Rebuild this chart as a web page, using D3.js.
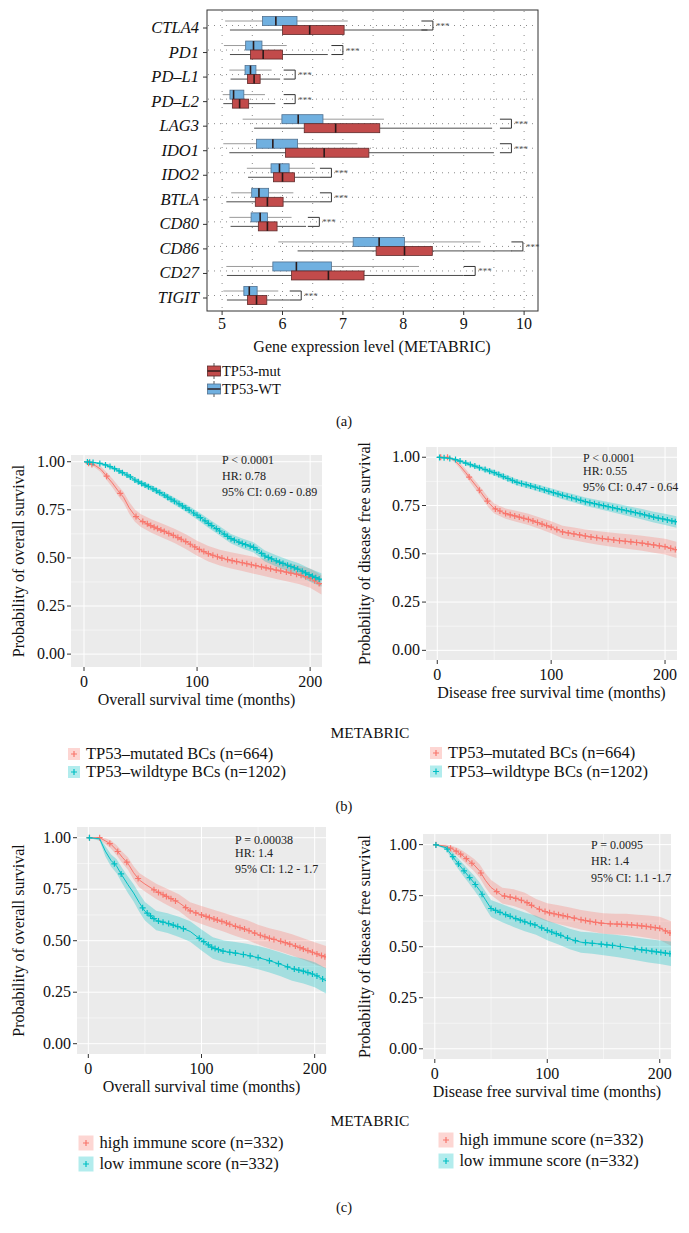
<!DOCTYPE html>
<html>
<head>
<meta charset="utf-8">
<script src="https://cdn.jsdelivr.net/npm/d3@7"></script>
<style>
  body { margin: 0; background: #fff; }
  svg { display: block; font-family: "Liberation Serif", "Times New Roman", serif; }
</style>
</head>
<body>
<svg id="fig" width="689" height="1233"></svg>
<script>
// ---------- data: panel (a) boxplots [lower whisker, q1, median, q3, upper whisker]
const genes = ["CTLA4", "PD1", "PD\u2013L1", "PD\u2013L2", "LAG3", "IDO1", "IDO2", "BTLA", "CD80", "CD86", "CD27", "TIGIT"];
const wtStats = [
  [5.05, 5.67, 5.89, 6.24, 7.08], [5.03, 5.39, 5.52, 5.66, 6.07], [5.12, 5.38, 5.47, 5.56, 5.82],
  [5.01, 5.13, 5.19, 5.36, 5.71], [5.34, 5.99, 6.26, 6.67, 7.68], [5.02, 5.57, 5.84, 6.25, 7.24],
  [5.41, 5.81, 5.95, 6.11, 6.54], [5.15, 5.49, 5.61, 5.77, 6.18], [5.12, 5.48, 5.63, 5.75, 6.15],
  [5.93, 7.17, 7.60, 8.02, 9.28], [5.07, 5.84, 6.23, 6.81, 8.26], [5.02, 5.36, 5.45, 5.58, 5.93]
];
const mutStats = [
  [5.13, 6.00, 6.45, 7.02, 8.40], [5.13, 5.47, 5.68, 6.00, 6.75], [5.14, 5.42, 5.53, 5.63, 5.96],
  [5.02, 5.17, 5.29, 5.44, 5.88], [5.53, 6.36, 6.88, 7.61, 9.47], [5.12, 6.05, 6.69, 7.43, 9.50],
  [5.43, 5.85, 6.00, 6.20, 6.62], [5.07, 5.55, 5.75, 6.01, 6.62], [5.14, 5.60, 5.75, 5.91, 6.39],
  [6.25, 7.55, 8.02, 8.48, 9.80], [5.08, 6.15, 6.76, 7.35, 8.99], [5.08, 5.42, 5.57, 5.74, 6.12]
];
const sigX = [8.49, 7.0, 6.21, 6.21, 9.79, 9.79, 6.81, 6.81, 6.61, 9.98, 9.19, 6.31];
const exprTicks = [5, 6, 7, 8, 9, 10];

// ---------- data: Kaplan-Meier curves, read at these months
const kmTime = [0, 10, 15, 20, 25, 30, 35, 40, 45, 50, 60, 70, 80, 90, 100, 110, 120, 130, 140, 150, 160, 170, 180, 190, 200, 210];

// (b) overall survival, TP53
const bOsWt = [1.0, 0.995, 0.99, 0.982, 0.97, 0.955, 0.94, 0.925, 0.905, 0.89, 0.862, 0.83, 0.795, 0.76, 0.722, 0.68, 0.64, 0.60, 0.575, 0.555, 0.51, 0.485, 0.462, 0.44, 0.41, 0.385];
const bOsWtLo = [1.0, 0.99, 0.983, 0.974, 0.961, 0.945, 0.929, 0.913, 0.892, 0.876, 0.846, 0.813, 0.776, 0.74, 0.70, 0.657, 0.616, 0.575, 0.549, 0.528, 0.482, 0.456, 0.432, 0.408, 0.376, 0.35];
const bOsWtHi = [1.0, 1.0, 0.996, 0.99, 0.979, 0.965, 0.951, 0.937, 0.918, 0.904, 0.878, 0.847, 0.814, 0.78, 0.744, 0.703, 0.664, 0.625, 0.601, 0.582, 0.538, 0.514, 0.492, 0.472, 0.444, 0.42];
const bOsMut = [1.0, 0.98, 0.96, 0.925, 0.89, 0.85, 0.815, 0.76, 0.72, 0.695, 0.665, 0.64, 0.615, 0.585, 0.55, 0.522, 0.502, 0.487, 0.475, 0.462, 0.45, 0.437, 0.425, 0.413, 0.395, 0.36];
const bOsMutLo = [1.0, 0.969, 0.945, 0.905, 0.867, 0.824, 0.787, 0.729, 0.688, 0.662, 0.63, 0.604, 0.578, 0.547, 0.511, 0.482, 0.461, 0.445, 0.432, 0.418, 0.405, 0.391, 0.378, 0.365, 0.345, 0.31];
const bOsMutHi = [1.0, 0.991, 0.975, 0.945, 0.913, 0.876, 0.843, 0.791, 0.752, 0.728, 0.7, 0.676, 0.652, 0.623, 0.589, 0.562, 0.543, 0.529, 0.518, 0.506, 0.495, 0.483, 0.472, 0.461, 0.445, 0.41];
const bOsWtCens = [3, 5, 8, 14, 19, 23, 27, 31, 34, 38, 41, 45, 48, 51, 54, 57, 61, 64, 67, 71, 74, 77, 80, 84, 87, 90, 93, 97, 100, 103, 107, 110, 113, 117, 120, 124, 127, 130, 133, 137, 140, 143, 147, 150, 153, 157, 160, 163, 166, 170, 173, 176, 180, 183, 186, 189, 193, 196, 199, 202, 205, 208];
const bOsMutCens = [4, 7, 20, 32, 46, 52, 56, 59, 62, 65, 68, 71, 75, 79, 83, 86, 90, 94, 98, 102, 106, 110, 114, 118, 122, 127, 131, 135, 140, 144, 148, 152, 157, 161, 165, 170, 174, 179, 183, 188, 192, 196, 200, 204, 208];

// (b) disease free survival, TP53
const bDfsWt = [1.0, 0.995, 0.99, 0.98, 0.97, 0.96, 0.95, 0.94, 0.93, 0.92, 0.895, 0.87, 0.855, 0.838, 0.82, 0.803, 0.787, 0.77, 0.757, 0.744, 0.731, 0.718, 0.705, 0.69, 0.678, 0.665];
const bDfsWtLo = [1.0, 0.99, 0.984, 0.972, 0.961, 0.95, 0.939, 0.928, 0.917, 0.906, 0.88, 0.854, 0.838, 0.82, 0.801, 0.783, 0.766, 0.748, 0.734, 0.72, 0.706, 0.692, 0.678, 0.662, 0.649, 0.635];
const bDfsWtHi = [1.0, 1.0, 0.996, 0.988, 0.979, 0.97, 0.961, 0.952, 0.943, 0.934, 0.91, 0.886, 0.872, 0.856, 0.839, 0.823, 0.808, 0.792, 0.78, 0.768, 0.756, 0.744, 0.732, 0.718, 0.707, 0.695];
const bDfsMut = [1.0, 1.0, 0.985, 0.955, 0.92, 0.882, 0.845, 0.805, 0.765, 0.735, 0.708, 0.693, 0.678, 0.658, 0.638, 0.613, 0.603, 0.592, 0.583, 0.575, 0.568, 0.562, 0.555, 0.546, 0.537, 0.52];
const bDfsMutLo = [1.0, 0.995, 0.975, 0.94, 0.902, 0.862, 0.823, 0.781, 0.74, 0.709, 0.681, 0.665, 0.649, 0.628, 0.607, 0.581, 0.57, 0.558, 0.548, 0.539, 0.531, 0.524, 0.516, 0.506, 0.496, 0.478];
const bDfsMutHi = [1.0, 1.0, 0.995, 0.97, 0.938, 0.902, 0.867, 0.829, 0.79, 0.761, 0.735, 0.721, 0.707, 0.688, 0.669, 0.645, 0.636, 0.626, 0.618, 0.611, 0.605, 0.6, 0.594, 0.586, 0.578, 0.562];
const bDfsWtCens = [2, 6, 11, 16, 20, 25, 29, 33, 37, 42, 46, 50, 54, 58, 62, 66, 70, 74, 78, 82, 86, 90, 94, 98, 102, 106, 110, 114, 118, 122, 126, 130, 134, 138, 142, 146, 150, 154, 158, 162, 166, 170, 174, 178, 182, 186, 190, 194, 198, 202, 206, 209];
const bDfsMutCens = [3, 9, 28, 37, 44, 51, 55, 60, 64, 68, 72, 76, 80, 84, 88, 92, 96, 100, 105, 110, 115, 120, 125, 130, 135, 140, 145, 150, 155, 160, 165, 170, 175, 180, 185, 190, 195, 200, 205, 209];

// (c) overall survival, immune score
const cOsHigh = [1.0, 1.0, 0.985, 0.968, 0.94, 0.905, 0.875, 0.83, 0.795, 0.775, 0.74, 0.712, 0.685, 0.645, 0.625, 0.607, 0.59, 0.57, 0.553, 0.53, 0.512, 0.497, 0.48, 0.46, 0.44, 0.42];
const cOsHighLo = [1.0, 0.99, 0.97, 0.948, 0.915, 0.877, 0.845, 0.797, 0.76, 0.739, 0.702, 0.672, 0.644, 0.602, 0.581, 0.562, 0.544, 0.523, 0.505, 0.481, 0.462, 0.446, 0.428, 0.407, 0.386, 0.365];
const cOsHighHi = [1.0, 1.0, 0.997, 0.987, 0.963, 0.932, 0.905, 0.862, 0.829, 0.81, 0.777, 0.751, 0.725, 0.687, 0.668, 0.651, 0.635, 0.616, 0.6, 0.578, 0.561, 0.547, 0.531, 0.512, 0.493, 0.474];
const cOsLow = [1.0, 0.995, 0.935, 0.89, 0.862, 0.815, 0.772, 0.732, 0.685, 0.643, 0.598, 0.585, 0.567, 0.545, 0.503, 0.465, 0.448, 0.44, 0.43, 0.418, 0.403, 0.385, 0.365, 0.352, 0.335, 0.305];
const cOsLowLo = [1.0, 0.985, 0.91, 0.86, 0.828, 0.778, 0.732, 0.69, 0.641, 0.598, 0.551, 0.537, 0.518, 0.495, 0.452, 0.413, 0.395, 0.386, 0.375, 0.362, 0.346, 0.327, 0.306, 0.292, 0.274, 0.244];
const cOsLowHi = [1.0, 1.0, 0.96, 0.92, 0.896, 0.852, 0.812, 0.774, 0.729, 0.688, 0.645, 0.633, 0.616, 0.595, 0.554, 0.517, 0.501, 0.494, 0.485, 0.474, 0.46, 0.443, 0.424, 0.412, 0.396, 0.366];
const cOsHighCens = [1, 10, 19, 26, 34, 44, 58, 62, 66, 69, 73, 77, 86, 90, 95, 100, 104, 107, 111, 114, 118, 122, 125, 130, 134, 138, 142, 147, 152, 156, 160, 164, 170, 174, 178, 183, 187, 190, 194, 198, 202, 206, 209];
const cOsLowCens = [1, 23, 29, 48, 52, 55, 58, 62, 66, 71, 75, 79, 84, 98, 102, 106, 109, 112, 115, 119, 125, 130, 137, 143, 150, 160, 168, 176, 182, 186, 190, 194, 198, 202, 207];

// (c) disease free survival, immune score
const cDfsHigh = [1.0, 0.992, 0.98, 0.965, 0.945, 0.922, 0.9, 0.87, 0.825, 0.79, 0.75, 0.74, 0.722, 0.69, 0.668, 0.657, 0.645, 0.632, 0.622, 0.614, 0.611, 0.609, 0.604, 0.598, 0.59, 0.565];
const cDfsHighLo = [1.0, 0.982, 0.965, 0.945, 0.921, 0.895, 0.87, 0.837, 0.79, 0.753, 0.711, 0.699, 0.68, 0.646, 0.623, 0.611, 0.598, 0.584, 0.573, 0.564, 0.56, 0.557, 0.551, 0.543, 0.533, 0.505];
const cDfsHighHi = [1.0, 1.0, 0.995, 0.985, 0.969, 0.949, 0.93, 0.903, 0.86, 0.827, 0.789, 0.781, 0.764, 0.734, 0.713, 0.703, 0.692, 0.68, 0.671, 0.664, 0.662, 0.661, 0.657, 0.653, 0.647, 0.625];
const cDfsLow = [1.0, 0.985, 0.948, 0.912, 0.878, 0.845, 0.812, 0.775, 0.73, 0.687, 0.664, 0.642, 0.622, 0.605, 0.58, 0.56, 0.538, 0.522, 0.517, 0.511, 0.505, 0.497, 0.488, 0.48, 0.473, 0.465];
const cDfsLowLo = [1.0, 0.975, 0.928, 0.887, 0.849, 0.813, 0.777, 0.737, 0.69, 0.645, 0.62, 0.597, 0.576, 0.558, 0.532, 0.511, 0.488, 0.471, 0.465, 0.458, 0.451, 0.442, 0.432, 0.423, 0.415, 0.405];
const cDfsLowHi = [1.0, 0.995, 0.968, 0.937, 0.907, 0.877, 0.847, 0.813, 0.77, 0.729, 0.708, 0.687, 0.668, 0.652, 0.628, 0.609, 0.588, 0.573, 0.569, 0.564, 0.559, 0.552, 0.544, 0.537, 0.531, 0.525];
const cDfsHighCens = [1, 14, 19, 23, 28, 33, 41, 55, 62, 67, 72, 77, 82, 86, 93, 98, 102, 106, 110, 114, 118, 124, 130, 134, 138, 143, 148, 156, 162, 166, 171, 175, 180, 184, 188, 192, 196, 200, 205, 209];
const cDfsLowCens = [1, 11, 16, 21, 26, 31, 36, 42, 50, 54, 58, 63, 67, 72, 76, 80, 85, 89, 95, 100, 104, 108, 112, 118, 125, 134, 140, 148, 153, 158, 165, 178, 184, 188, 193, 197, 201, 205, 209];

const monthTicks = [0, 100, 200];
const probTicks = [0, 0.25, 0.5, 0.75, 1];

const RED = "#F8766D", TEAL = "#00BFC4";
const FS = 16;
const svg = d3.select("#fig");

// ================= panel (a) =================
const ax = d3.scaleLinear().domain([4.75, 10.23]).range([207, 538]);
const ay = d3.scalePoint().domain(genes).range([28, 298]);
const ga = svg.append("g");

// dotted grid
ga.selectAll(".vdot").data(d3.range(5, 10.01, 0.5)).enter().append("line")
  .attr("x1", d => ax(d)).attr("x2", d => ax(d)).attr("y1", 11).attr("y2", 310)
  .attr("stroke", "#8a8a8a").attr("stroke-width", 1).attr("stroke-dasharray", "1,7");
ga.selectAll(".hdot").data(genes).enter().append("line")
  .attr("x1", 208).attr("x2", 537).attr("y1", d => ay(d) - 2.5).attr("y2", d => ay(d) - 2.5)
  .attr("stroke", "#8a8a8a").attr("stroke-width", 1).attr("stroke-dasharray", "1,5");

function drawBoxes(stats, off, fill, edge, whisk) {
  const g = ga.append("g");
  genes.forEach((gname, i) => {
    const s = stats[i], c = ay(gname) + off;
    g.append("line").attr("x1", ax(s[0])).attr("x2", ax(s[1])).attr("y1", c).attr("y2", c)
      .attr("stroke", whisk).attr("stroke-width", 1);
    g.append("line").attr("x1", ax(s[3])).attr("x2", ax(s[4])).attr("y1", c).attr("y2", c)
      .attr("stroke", whisk).attr("stroke-width", 1);
    g.append("rect").attr("x", ax(s[1])).attr("y", c - 4.5).attr("width", ax(s[3]) - ax(s[1])).attr("height", 9)
      .attr("fill", fill).attr("stroke", edge).attr("stroke-width", 0.8);
    g.append("line").attr("x1", ax(s[2])).attr("x2", ax(s[2])).attr("y1", c - 4.5).attr("y2", c + 4.5)
      .attr("stroke", "#2a1a1a").attr("stroke-width", 1.6);
  });
}
drawBoxes(wtStats, -7, "#70B0E0", "#50708f", "#9a9a9a");
drawBoxes(mutStats, 2, "#C24B4B", "#5e2a2a", "#4d4d4d");

// significance brackets
genes.forEach((gname, i) => {
  const c = ay(gname), bx = ax(sigX[i]);
  ga.append("path")
    .attr("d", `M${bx - 11.5},${c - 7}H${bx}V${c + 2}H${bx - 11.5}`)
    .attr("fill", "none").attr("stroke", "#333").attr("stroke-width", 1);
  ga.append("text").attr("x", bx + 3).attr("y", c + 1).attr("font-size", 9)
    .attr("fill", "#555").text("***");
});

ga.append("rect").attr("x", 207).attr("y", 10).attr("width", 331).attr("height", 301)
  .attr("fill", "none").attr("stroke", "#333").attr("stroke-width", 1);

// y axis (genes)
ga.selectAll(".glab").data(genes).enter().append("text")
  .attr("x", 199).attr("y", d => ay(d) + 5).attr("text-anchor", "end")
  .attr("font-style", "italic").attr("font-size", 16.5).attr("fill", "#111").text(d => d);
ga.selectAll(".gtick").data(genes).enter().append("line")
  .attr("x1", 203).attr("x2", 207).attr("y1", d => ay(d)).attr("y2", d => ay(d))
  .attr("stroke", "#333");
// x axis
ga.selectAll(".xt").data(exprTicks).enter().append("line")
  .attr("x1", d => ax(d)).attr("x2", d => ax(d)).attr("y1", 311).attr("y2", 315).attr("stroke", "#333");
ga.selectAll(".xl").data(exprTicks).enter().append("text")
  .attr("x", d => ax(d)).attr("y", 329).attr("text-anchor", "middle").attr("font-size", FS)
  .attr("fill", "#111").text(d => d);
ga.append("text").attr("x", 372).attr("y", 352).attr("text-anchor", "middle")
  .attr("font-size", FS).attr("fill", "#111").text("Gene expression level (METABRIC)");

// legend (a)
[["TP53-mut", "#C24B4B", "#5e2a2a", 371], ["TP53-WT", "#70B0E0", "#50708f", 389]].forEach(([lab, fill, edge, y]) => {
  ga.append("line").attr("x1", 214).attr("x2", 214).attr("y1", y - 8).attr("y2", y + 8).attr("stroke", "#555");
  ga.append("rect").attr("x", 207.5).attr("y", y - 5).attr("width", 13).attr("height", 10)
    .attr("fill", fill).attr("stroke", edge).attr("stroke-width", 0.8);
  ga.append("line").attr("x1", 207.5).attr("x2", 220.5).attr("y1", y).attr("y2", y).attr("stroke", "#2a1a1a").attr("stroke-width", 1.4);
  ga.append("text").attr("x", 222).attr("y", y + 5).attr("font-size", 14.5).attr("fill", "#111").text(lab);
});

// ================= KM panels =================
function drawKM(p) {
  const g = svg.append("g");
  const x = d3.scaleLinear().domain(p.xDom).range([p.left, p.right]);
  const y = d3.scaleLinear().domain(p.yDom).range([p.bottom, p.top]);
  g.append("rect").attr("x", p.left).attr("y", p.top).attr("width", p.right - p.left)
    .attr("height", p.bottom - p.top).attr("fill", "#EBEBEB");
  // minor grid
  [50, 150].forEach(t => g.append("line").attr("x1", x(t)).attr("x2", x(t)).attr("y1", p.top).attr("y2", p.bottom)
    .attr("stroke", "#fff").attr("stroke-width", 0.5));
  [0.125, 0.375, 0.625, 0.875].forEach(v => g.append("line").attr("x1", p.left).attr("x2", p.right)
    .attr("y1", y(v)).attr("y2", y(v)).attr("stroke", "#fff").attr("stroke-width", 0.5));
  // major grid
  monthTicks.forEach(t => g.append("line").attr("x1", x(t)).attr("x2", x(t)).attr("y1", p.top).attr("y2", p.bottom)
    .attr("stroke", "#fff").attr("stroke-width", 1));
  probTicks.forEach(v => g.append("line").attr("x1", p.left).attr("x2", p.right)
    .attr("y1", y(v)).attr("y2", y(v)).attr("stroke", "#fff").attr("stroke-width", 1));

  const clipId = "clip" + p.id;
  g.append("clipPath").attr("id", clipId).append("rect").attr("x", p.left).attr("y", p.top)
    .attr("width", p.right - p.left).attr("height", p.bottom - p.top);
  const gc = g.append("g").attr("clip-path", `url(#${clipId})`);

  p.curves.forEach(cv => {
    const rows = kmTime.map((t, i) => ({ t, s: cv.surv[i], lo: cv.lo[i], hi: cv.hi[i] }));
    gc.append("path").datum(rows)
      .attr("d", d3.area().x(d => x(d.t)).y0(d => y(d.lo)).y1(d => y(d.hi)))
      .attr("fill", cv.color).attr("opacity", 0.3);
  });
  p.curves.forEach(cv => {
    const rows = kmTime.map((t, i) => ({ t, s: cv.surv[i] }));
    gc.append("path").datum(rows)
      .attr("d", d3.line().x(d => x(d.t)).y(d => y(d.s)))
      .attr("fill", "none").attr("stroke", cv.color).attr("stroke-width", 1);
    const sAt = d3.scaleLinear().domain(kmTime).range(cv.surv);
    gc.selectAll(null).data(cv.cens).enter().append("path")
      .attr("d", d => { const cx = x(d), cy = y(sAt(d)); return `M${cx - 3},${cy}H${cx + 3}M${cx},${cy - 3}V${cy + 3}`; })
      .attr("stroke", cv.color).attr("stroke-width", 1.2);
  });

  // axes
  probTicks.forEach(v => {
    g.append("line").attr("x1", p.left - 4).attr("x2", p.left).attr("y1", y(v)).attr("y2", y(v)).attr("stroke", "#333");
    g.append("text").attr("x", p.left - 6).attr("y", y(v) + 5).attr("text-anchor", "end")
      .attr("font-size", FS).attr("fill", "#111").text(d3.format(".2f")(v));
  });
  monthTicks.forEach(t => {
    g.append("line").attr("x1", x(t)).attr("x2", x(t)).attr("y1", p.bottom).attr("y2", p.bottom + 4).attr("stroke", "#333");
    g.append("text").attr("x", x(t)).attr("y", p.bottom + 20).attr("text-anchor", "middle")
      .attr("font-size", FS).attr("fill", "#111").text(t);
  });
  g.append("text").attr("x", (p.left + p.right) / 2).attr("y", p.bottom + 38).attr("text-anchor", "middle")
    .attr("font-size", FS).attr("fill", "#111").text(p.xTitle);
  g.append("text").attr("transform", `translate(${p.yTitleX},${(p.top + p.bottom) / 2}) rotate(-90)`)
    .attr("text-anchor", "middle").attr("dominant-baseline", "central")
    .attr("font-size", FS).attr("fill", "#111").text(p.yTitle);

  p.stats.forEach((s, i) => g.append("text").attr("x", p.statX).attr("y", p.statY[i])
    .attr("font-size", 12).attr("fill", "#222").text(s));

  // legend
  p.legend.forEach((lab, i) => {
    const ly = p.legY[i], cv = p.curves[i];
    g.append("rect").attr("x", p.legX - p.keySize / 2).attr("y", ly - p.keySize / 2)
      .attr("width", p.keySize).attr("height", p.keySize).attr("fill", cv.color).attr("opacity", 0.3);
    g.append("path").attr("d", `M${p.legX - 3},${ly}H${p.legX + 3}M${p.legX},${ly - 3}V${ly + 3}`)
      .attr("stroke", cv.color).attr("stroke-width", 1.2);
    g.append("text").attr("x", p.legX + p.keySize / 2 + 6).attr("y", ly + 5)
      .attr("font-size", 16.5).attr("fill", "#111").text(lab);
  });
}

const tp53Legend = ["TP53\u2013mutated BCs (n=664)", "TP53\u2013wildtype BCs (n=1202)"];
const immLegend = ["high immune score (n=332)", "low immune score (n=332)"];

drawKM({
  id: "bL", left: 71, right: 322, top: 455, bottom: 667, xDom: [-11.5, 210.5], yDom: [-0.067, 1.035],
  curves: [
    { surv: bOsMut, lo: bOsMutLo, hi: bOsMutHi, cens: bOsMutCens, color: RED },
    { surv: bOsWt, lo: bOsWtLo, hi: bOsWtHi, cens: bOsWtCens, color: TEAL }
  ],
  xTitle: "Overall survival time (months)", yTitle: "Probability of overall survival", yTitleX: 18,
  stats: ["P < 0.0001", "HR: 0.78", "95% CI: 0.69 - 0.89"], statX: 222, statY: [464, 480, 496],
  legend: tp53Legend, legX: 74, legY: [754, 772], keySize: 12
});
drawKM({
  id: "bR", left: 426, right: 677, top: 447, bottom: 660, xDom: [-9.9, 210.5], yDom: [-0.05, 1.053],
  curves: [
    { surv: bDfsMut, lo: bDfsMutLo, hi: bDfsMutHi, cens: bDfsMutCens, color: RED },
    { surv: bDfsWt, lo: bDfsWtLo, hi: bDfsWtHi, cens: bDfsWtCens, color: TEAL }
  ],
  xTitle: "Disease free survival time (months)", yTitle: "Probability of disease free survival", yTitleX: 364,
  stats: ["P < 0.0001", "HR: 0.55", "95% CI: 0.47 - 0.64"], statX: 583, statY: [462, 474.5, 491],
  legend: tp53Legend, legX: 436, legY: [753, 771.5], keySize: 12
});
drawKM({
  id: "cL", left: 77, right: 326, top: 827, bottom: 1054, xDom: [-10, 210], yDom: [-0.05, 1.052],
  curves: [
    { surv: cOsHigh, lo: cOsHighLo, hi: cOsHighHi, cens: cOsHighCens, color: RED },
    { surv: cOsLow, lo: cOsLowLo, hi: cOsLowHi, cens: cOsLowCens, color: TEAL }
  ],
  xTitle: "Overall survival time (months)", yTitle: "Probability of overall survival", yTitleX: 18,
  stats: ["P = 0.00038", "HR: 1.4", "95% CI: 1.2 - 1.7"], statX: 235, statY: [843.5, 857, 873],
  legend: immLegend, legX: 86, legY: [1143, 1164], keySize: 15
});
drawKM({
  id: "cR", left: 423, right: 671, top: 834, bottom: 1059, xDom: [-10.5, 210], yDom: [-0.05, 1.052],
  curves: [
    { surv: cDfsHigh, lo: cDfsHighLo, hi: cDfsHighHi, cens: cDfsHighCens, color: RED },
    { surv: cDfsLow, lo: cDfsLowLo, hi: cDfsLowHi, cens: cDfsLowCens, color: TEAL }
  ],
  xTitle: "Disease free survival time (months)", yTitle: "Probability of disease free survival", yTitleX: 364,
  stats: ["P = 0.0095", "HR: 1.4", "95% CI: 1.1 -1.7"], statX: 591, statY: [848.5, 865, 882],
  legend: immLegend, legX: 446, legY: [1140, 1161], keySize: 15
});

// shared labels
[["METABRIC", 738], ["METABRIC", 1126]].forEach(([t, y]) =>
  svg.append("text").attr("x", 370).attr("y", y).attr("text-anchor", "middle")
    .attr("font-size", 15.5).attr("fill", "#111").text(t));
[["(a)", 426], ["(b)", 811], ["(c)", 1212]].forEach(([t, y]) =>
  svg.append("text").attr("x", 344).attr("y", y).attr("text-anchor", "middle")
    .attr("font-size", 14.5).attr("fill", "#111").text(t));
</script>
</body>
</html>
